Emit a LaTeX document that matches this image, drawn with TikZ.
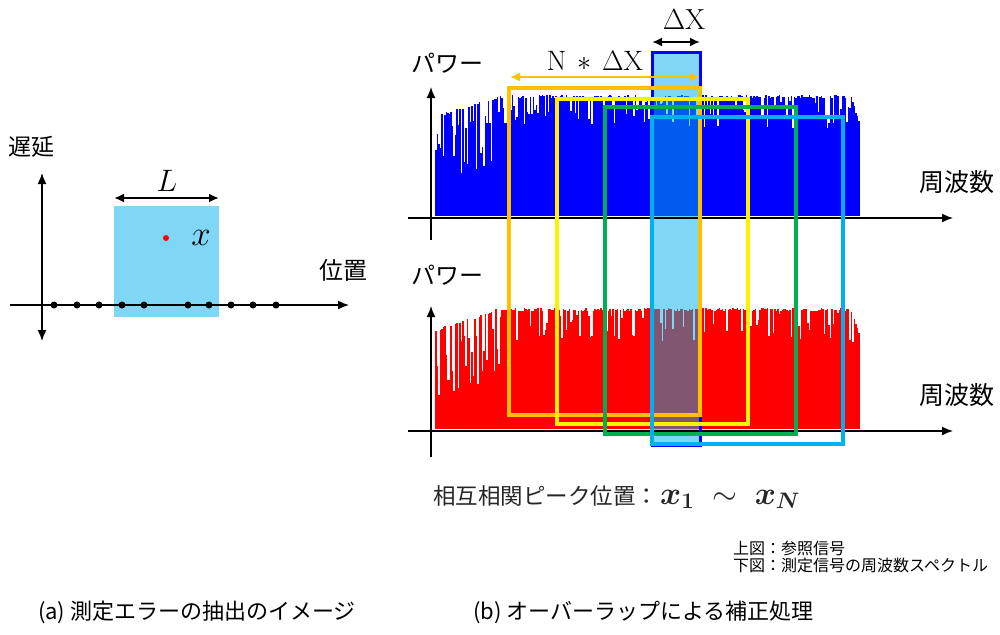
\RequirePackage{fix-cm}
\documentclass[tikz,border=0pt]{standalone}
\usepackage{fontspec}
\usepackage{bm}
\newfontfamily\jp{Noto Sans CJK JP}
\usetikzlibrary{arrows.meta}
\definecolor{lightcol}{RGB}{127,214,245}
\definecolor{specblue}{RGB}{0,0,255}
\definecolor{specred}{RGB}{255,0,0}
\definecolor{mixblue}{RGB}{0,92,240}
\definecolor{mixred}{RGB}{128,86,112}
\definecolor{winorange}{RGB}{255,192,0}
\definecolor{winyellow}{RGB}{255,242,0}
\definecolor{wingreen}{RGB}{0,176,80}
\definecolor{wincyan}{RGB}{0,176,240}
\definecolor{colblue}{RGB}{0,0,255}
\newcommand\fsz[1]{\fontsize{#1}{#1}\selectfont}
% spectrum: #1 base y, #2 colour, #3 seed
\newcommand\specdraw[3]{%
  \pgfmathsetseed{#3}%
  \foreach \i in {0,...,282}{%
    \pgfmathsetmacro\xx{436+\i*1.5}%
    \pgfmathsetmacro\env{\xx<500 ? (500-\xx)*0.32 : (\xx>851 ? (\xx-851)*3 : 0)}%
    \pgfmathsetmacro\pr{\xx<500 ? 0.5 : 0.74}%
    \pgfmathsetmacro\r{rnd}%
    \pgfmathsetmacro\big{\xx<500 ? 15+55*rnd : 5+28*rnd}%
    \pgfmathsetmacro\dip{\r>\pr ? \big : 3*rnd}%
    \draw[#2, line width=1.6pt] (\xx,#1) -- (\xx,#1-121+\env+\dip);
  }%
}
\tikzset{
  jptext/.style={font=\jp, inner sep=0pt, text=black},
  axisline/.style={line width=1.5pt, -{Latex[length=11pt,width=9pt]}},
  axisboth/.style={line width=1.5pt, {Latex[length=11pt,width=9pt]}-{Latex[length=11pt,width=9pt]}},
  dimarrow/.style={line width=2.2pt, {Latex[length=10pt,width=9pt]}-{Latex[length=10pt,width=9pt]}},
  win/.style={line width=3.6pt},
  blackdot/.style={circle, fill=black, inner sep=0pt, minimum size=7pt},
  mathlab/.style={inner sep=0pt},
}
\begin{document}
\begin{tikzpicture}[x=1pt,y=-1pt]
\fill[white] (0,0) rectangle (1000,634);
\useasboundingbox (0,0) rectangle (1000,634);

% ---------------- (a) left panel ----------------
\fill[lightcol] (114,206) rectangle (219,317);
\coordinate (yb) at (42,341);
\coordinate (yt) at (42,173);
\coordinate (xl) at (10,305);
\coordinate (xr) at (349,305);
\draw[axisboth] (yb) -- (yt);
\draw[axisline] (xl) -- (xr);
\foreach \k/\px in {1/54,2/77,3/99,4/122,5/144,6/188,7/209,8/231,9/253,10/276}
  \node[blackdot] (d\k) at (\px,305) {};
\node[circle, fill=red, inner sep=0pt, minimum size=6pt] (xdot) at (166,238) {};
\coordinate (La) at (114,198);
\coordinate (Lb) at (219,198);
\draw[dimarrow] (La) -- (Lb);
\node[mathlab, font=\fsz{31}] (Llab) at (167,181) {$L$};
\node[mathlab, font=\fsz{35}] (xlab) at (201,238) {$x$};
\node[jptext, font=\jp\fsz{23}] (delay) at (32,147) {遅延};
\node[jptext, font=\jp\fsz{24}] (pos) at (343,270) {位置};
\node[jptext, font=\jp\fsz{22}] (capa) at (197,612) {(a) 測定エラーの抽出のイメージ};

% ---------------- (b) right panel ----------------
% column background
\fill[lightcol] (652,53) rectangle (700,445);
% spectra
\specdraw{216}{specblue}{17}
\specdraw{429}{specred}{29}
\begin{scope}
  \clip (652,53) rectangle (700,445);
  \specdraw{216}{mixblue}{17}
  \specdraw{429}{mixred}{29}
\end{scope}
% axes
\coordinate (tvb) at (431,240);
\coordinate (tvt) at (431,87);
\coordinate (thl) at (408,218);
\coordinate (thr) at (953,218);
\coordinate (bvb) at (431,457);
\coordinate (bvt) at (431,306);
\coordinate (bhl) at (408,431);
\coordinate (bhr) at (953,431);
\draw[axisline] (tvb) -- (tvt);
\draw[axisline] (thl) -- (thr);
\draw[axisline] (bvb) -- (bvt);
\draw[axisline] (bhl) -- (bhr);
% column outline
\draw[colblue, line width=3pt] (652,53) rectangle (700,445);
% windows
\draw[win, winorange] (509,88) rectangle (700,415);
\draw[win, winyellow] (557,99) rectangle (748,424);
\draw[win, wingreen] (605,107) rectangle (796,434);
\draw[win, wincyan] (652,117) rectangle (843,444);
% dimension arrows
\coordinate (dxa) at (652,42);
\coordinate (dxb) at (700,42);
\draw[dimarrow, black] (dxa) -- (dxb);
\coordinate (nda) at (510,77);
\coordinate (ndb) at (700,77);
\draw[dimarrow, winorange, line width=2.6pt] (nda) -- (ndb);
\node[mathlab, font=\fsz{29}] (dxlab) at (684,20) {$\Delta\mathrm{X}$};
\node[mathlab, font=\fsz{28}] (ndxlab) at (595,61) {$\mathrm{N}\,\ast\,\Delta\mathrm{X}$};
% labels
\node[jptext, font=\jp\fsz{24}] (pw1) at (447,63) {パワー};
\node[jptext, font=\jp\fsz{24}] (pw2) at (447,275) {パワー};
\node[jptext, font=\jp\fsz{25}] (fq1) at (957,182) {周波数};
\node[jptext, font=\jp\fsz{25}] (fq2) at (957,395) {周波数};
\node[jptext, font=\jp\fsz{22.5}, anchor=west, text=black!85] (peak) at (433,497)
  {相互相関ピーク位置：\hspace{2pt}{\fontsize{32}{32}\selectfont$\bm{x_1}\;\sim\;\bm{x_N}$}};
\node[jptext, font=\jp\fontsize{16}{17}\selectfont, anchor=north west, align=left] (note) at (733,541)
  {上図：参照信号\\下図：測定信号の周波数スペクトル};
\node[jptext, font=\jp\fsz{22}, anchor=west] (capb) at (473,612) {(b) オーバーラップによる補正処理};
\end{tikzpicture}
\end{document}
